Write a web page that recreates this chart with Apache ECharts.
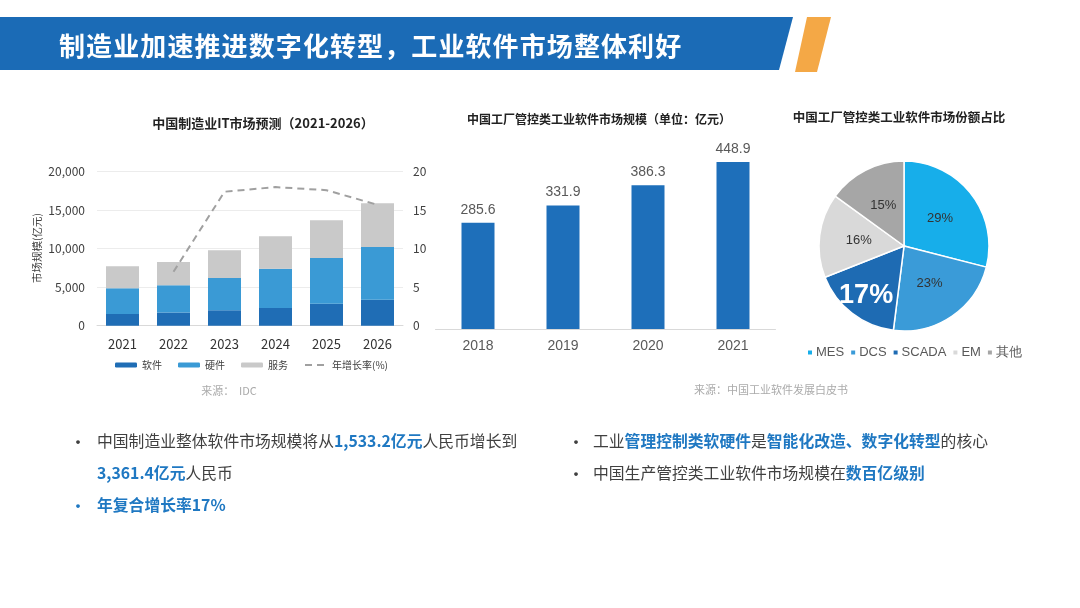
<!DOCTYPE html>
<html>
<head>
<meta charset="utf-8">
<script src="https://cdn.jsdelivr.net/npm/echarts@6/dist/echarts.min.js"></script>
<style>
  html,body{margin:0;padding:0;background:#fff;}
  #wrap{position:relative;width:1080px;height:608px;overflow:hidden;font-family:"Noto Sans CJK SC","Noto Sans",sans-serif;}
  #chart{position:absolute;left:0;top:0;width:1080px;height:608px;}
  .band{position:absolute;left:0;top:17px;width:793px;height:53px;background:#1b6bb6;clip-path:polygon(0 0,793px 0,779px 53px,0 53px);}
  .orange{position:absolute;left:795px;top:17px;width:36px;height:55px;background:#f4a846;clip-path:polygon(12px 0,36px 0,22px 55px,0 55px);}
  .htitle{position:absolute;left:59px;top:27px;height:36px;line-height:36px;color:#fff;font-size:26px;font-weight:bold;letter-spacing:1.1px;white-space:nowrap;}
  .bl{position:absolute;font-size:15.8px;color:#404040;white-space:nowrap;line-height:20px;}
  .dot{position:absolute;font-size:18px;color:#404040;line-height:20px;}
  .hl{color:#1f78c2;font-weight:bold;}
</style>
</head>
<body>
<div id="wrap">
  <div id="chart"></div>
  <div class="band"></div>
  <div class="orange"></div>
  <div class="htitle">制造业加速推进数字化转型，工业软件市场整体利好</div>

  <div class="dot" style="left:69px;top:431px;">•</div>
  <div class="bl" style="left:97px;top:431px;">中国制造业整体软件市场规模将从<span class="hl">1,533.2亿元</span>人民币增长到</div>
  <div class="bl" style="left:97px;top:463px;"><span class="hl">3,361.4亿元</span>人民币</div>
  <div class="dot" style="left:69px;top:495px;color:#1f78c2;">•</div>
  <div class="bl" style="left:97px;top:495px;"><span class="hl">年复合增长率17%</span></div>

  <div class="dot" style="left:567px;top:431px;">•</div>
  <div class="bl" style="left:593px;top:431px;">工业<span class="hl">管理控制类软硬件</span>是<span class="hl">智能化改造、数字化转型</span>的核心</div>
  <div class="dot" style="left:567px;top:463px;">•</div>
  <div class="bl" style="left:593px;top:463px;">中国生产管控类工业软件市场规模在<span class="hl">数百亿级别</span></div>
</div>
<script>
// ---- Data ----
const itYears = ['2021','2022','2023','2024','2025','2026'];
const software = [1533, 1720, 2000, 2300, 2850, 3361];
const hardware = [3315, 3518, 4190, 5103, 5938, 6855];
const services = [2858, 3030, 3594, 4199, 4892, 5671];
const growth = [null, 7.0, 17.4, 18.0, 17.6, 15.7];

const mktYears = ['2018','2019','2020','2021'];
const mktValues = [285.6, 331.9, 386.3, 448.9];

const pieNames = ['MES','DCS','SCADA','EM','其他'];
const pieValues = [29, 23, 17, 16, 15];

const leftTicks = [0, 5000, 10000, 15000, 20000];

// ---- Chart ----
const chart = echarts.init(document.getElementById('chart'), null, {renderer:'canvas'});
const cjk = '"Noto Sans CJK SC", "Noto Sans", sans-serif';
const arial = '"Liberation Sans", Arial, sans-serif';
const pieColors = ['#17aeea','#3a9bd8','#1e6bb3','#d9d9d9','#a6a6a6'];

const option = {
  animation:false,
  textStyle:{fontFamily:cjk},
  graphic:[
    {type:'text', x:263, y:123, style:{text:'中国制造业IT市场预测（2021-2026）', fill:'#222', font:'bold 13px '+cjk, align:'center', verticalAlign:'middle'}},
    {type:'text', x:599, y:119, style:{text:'中国工厂管控类工业软件市场规模（单位：亿元）', fill:'#222', font:'bold 12px '+cjk, align:'center', verticalAlign:'middle'}},
    {type:'text', x:899, y:117, style:{text:'中国工厂管控类工业软件市场份额占比', fill:'#222', font:'bold 12.5px '+cjk, align:'center', verticalAlign:'middle'}},
    {type:'text', x:229, y:391, style:{text:'来源：  IDC', fill:'#aaaaaa', font:'11px '+cjk, align:'center', verticalAlign:'middle'}},
    {type:'text', x:771, y:390, style:{text:'来源：中国工业软件发展白皮书', fill:'#aaaaaa', font:'11px '+cjk, align:'center', verticalAlign:'middle'}},
    {type:'text', x:37, y:248, rotation:Math.PI/2, style:{text:'市场规模(亿元)', fill:'#404040', font:'10.5px '+cjk, align:'center', verticalAlign:'middle'}}
  ],
  legend:[
    {
      data:['软件','硬件','服务',{name:'年增长率(%)', itemStyle:{opacity:0}}],
      left:110, top:355,
      itemWidth:22, itemHeight:5, itemGap:16,
      textStyle:{fontSize:10, color:'#404040', fontFamily:cjk}
    },
    {
      data:pieNames,
      left:801, top:341,
      icon:'rect', itemWidth:6, itemHeight:6, itemGap:5,
      textStyle:{fontSize:13, color:'#595959', fontFamily:arial, padding:[0,0,0,-2]}
    }
  ],
  grid:[
    {left:97, right:677, top:171.7, bottom:282.3},
    {left:435.5, right:304.5, top:143, bottom:279}
  ],
  xAxis:[
    {type:'category', gridIndex:0, data:itYears,
     axisLine:{lineStyle:{color:'#d9d9d9'}}, axisTick:{show:false},
     axisLabel:{color:'#333', fontSize:13, margin:12, fontFamily:cjk}},
    {type:'category', gridIndex:1, data:mktYears,
     axisLine:{lineStyle:{color:'#d9d9d9'}}, axisTick:{show:false},
     axisLabel:{color:'#595959', fontSize:14, margin:10, fontFamily:arial}}
  ],
  yAxis:[
    {type:'value', gridIndex:0, min:leftTicks[0], max:leftTicks[leftTicks.length-1], interval:5000,
     axisLine:{show:false}, axisTick:{show:false},
     splitLine:{lineStyle:{color:'#ececec'}},
     axisLabel:{color:'#404040', fontSize:12, margin:12, fontFamily:cjk,
       formatter:v=>v.toLocaleString('en-US')}},
    {type:'value', gridIndex:0, min:0, max:20, interval:5, position:'right',
     axisLine:{show:false}, axisTick:{show:false}, splitLine:{show:false},
     axisLabel:{color:'#404040', fontSize:12, margin:10, fontFamily:cjk}},
    {type:'value', gridIndex:1, min:0, max:500, show:false}
  ],
  series:[
    {name:'软件', type:'bar', stack:'it', xAxisIndex:0, yAxisIndex:0, data:software, barWidth:33,
     itemStyle:{color:'#1f6db5'}},
    {name:'硬件', type:'bar', stack:'it', xAxisIndex:0, yAxisIndex:0, data:hardware, barWidth:33,
     itemStyle:{color:'#3a9ad5'}},
    {name:'服务', type:'bar', stack:'it', xAxisIndex:0, yAxisIndex:0, data:services, barWidth:33,
     itemStyle:{color:'#c9c9c9'}},
    {name:'年增长率(%)', type:'line', xAxisIndex:0, yAxisIndex:1, data:growth, symbol:'none',
     lineStyle:{color:'#a0a0a0', width:2, type:[7,5]}, itemStyle:{color:'#a0a0a0'}},
    {name:'规模', type:'bar', xAxisIndex:1, yAxisIndex:2, data:mktValues, barWidth:33,
     itemStyle:{color:'#1e6fba'},
     label:{show:true, position:'top', distance:6, color:'#595959', fontSize:14, fontFamily:arial}},
    {name:'份额', type:'pie', center:[904,246], radius:[0,85], startAngle:90, clockwise:true,
     data:pieNames.map((n,i)=>({name:n, value:pieValues[i],
       label: i===2 ? {color:'#fff', fontSize:27, fontWeight:'bold', offset:[-10,14]} : undefined})),
     color:pieColors,
     itemStyle:{borderColor:'#fff', borderWidth:1.5},
     label:{show:true, position:'inside', formatter:'{c}%', color:'#333', fontSize:13, fontFamily:arial},
     labelLine:{show:false}
    }
  ]
};
chart.setOption(option);
</script>
</body>
</html>
